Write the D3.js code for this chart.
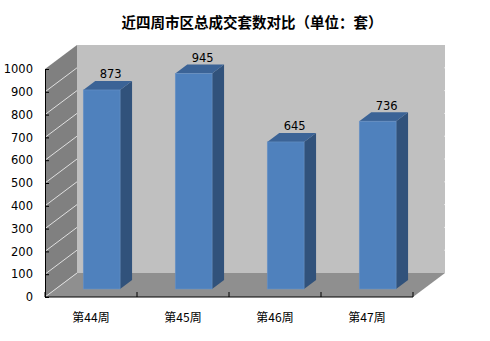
<!DOCTYPE html>
<html><head><meta charset="utf-8">
<script src="https://cdn.jsdelivr.net/npm/d3@7"></script>
<style>body{margin:0;background:#fff}svg{display:block}</style>
</head><body>
<script>
const categories = ["第44周","第45周","第46周","第47周"];
const values = [873, 945, 645, 736];
const yTicks = [0,100,200,300,400,500,600,700,800,900,1000];
const title = "近四周市区总成交套数对比（单位：套）";

const W = 490, H = 341;
const svg = d3.select("body").append("svg").attr("width", W).attr("height", H);
const x0 = 45, x1 = 413, yb = 297, yt = 69;
const DX = 32, DY = -24;          // wall depth
const bdx = DX/3, bdy = DY/3;      // bar placement depth
const bw = 12, bh = -9;            // bar depth

const x = d3.scaleBand().domain(categories).range([x0, x1]).paddingInner(0.6).paddingOuter(0.3);
const y = d3.scaleLinear().domain([0, 1000]).range([yb, yt]);

const font = "'Noto Sans CJK SC','DejaVu Sans',sans-serif";

// title
svg.append("text").attr("x", 252).attr("y", 28).attr("text-anchor", "middle")
  .attr("font-family", font).attr("font-weight", "bold").attr("font-size", 14.5)
  .attr("fill", "#000").text(title);

// back wall
svg.append("rect").attr("x", x0+DX).attr("y", y(1000)+DY).attr("width", x1-x0)
  .attr("height", y(0)-y(1000)).attr("fill", "#c0c0c0");
// floor
svg.append("polygon").attr("points", [[x0,y(0)],[x1,y(0)],[x1+DX,y(0)+DY],[x0+DX,y(0)+DY]].join(" "))
  .attr("fill", "#8f8f8f");
// left wall
svg.append("polygon").attr("points", [[x0,y(0)],[x0,y(1000)],[x0+DX,y(1000)+DY],[x0+DX,y(0)+DY]].join(" "))
  .attr("fill", "#808080");
// wall gridlines
svg.selectAll("line.g").data(yTicks.slice(0,-1)).enter().append("line")
  .attr("x1", x0).attr("x2", x0+DX).attr("y1", d=>y(d)).attr("y2", d=>y(d)+DY)
  .attr("stroke", "#e0e0e0").attr("stroke-width", 1);
// tiny marks at right edge of back wall
svg.selectAll("line.bg").data(yTicks.slice(1,-1)).enter().append("line")
  .attr("x1", x1+DX-1).attr("x2", x1+DX).attr("y1", d=>y(d)+DY).attr("y2", d=>y(d)+DY)
  .attr("stroke", "#e6e6e6").attr("stroke-width", 1);

// bars
const g = svg.append("g");
values.forEach((v, i) => {
  const c = categories[i];
  const xl = x(c) + bdx, xr = xl + x.bandwidth();
  const yT = y(v) + bdy, yB = y(0) + bdy;
  g.append("polygon").attr("points", [[xr,yB],[xr,yT],[xr+bw,yT+bh],[xr+bw,yB+bh]].join(" "))
    .attr("fill", "#31527b");
  g.append("polygon").attr("points", [[xl,yT],[xr,yT],[xr+bw,yT+bh],[xl+bw,yT+bh]].join(" "))
    .attr("fill", "#3b6396");
  g.append("rect").attr("x", xl).attr("y", yT).attr("width", x.bandwidth()).attr("height", yB-yT)
    .attr("fill", "#4f81bd").attr("stroke", "#6a93c6").attr("stroke-width", 0.6);
  g.append("text").attr("x", (xl+xr)/2 + 9).attr("y", yT - 11.5).attr("text-anchor", "middle")
    .attr("font-family", "'DejaVu Sans',sans-serif").attr("font-size", 11.5).attr("fill", "#000").text(v);
});

// axes
const ya = d3.axisLeft(y).tickValues(yTicks).tickSize(-4).tickPadding(12).tickFormat(d3.format("d"));
const yg = svg.append("g").attr("transform", `translate(${x0},0)`).call(ya);
yg.select(".domain").attr("stroke", "#000");
yg.selectAll(".tick line").attr("stroke", "#000");
yg.selectAll("text").attr("font-family", "'DejaVu Sans',sans-serif").attr("font-size", 11.5).attr("fill", "#000");

svg.append("line").attr("x1", x0).attr("x2", x1).attr("y1", yb).attr("y2", yb).attr("stroke", "#000");
const step = x.step();
svg.selectAll("line.xt").data(d3.range(5)).enter().append("line")
  .attr("x1", d=>x0+d*step).attr("x2", d=>x0+d*step).attr("y1", yb).attr("y2", yb-5).attr("stroke", "#000");
svg.selectAll("text.xl").data(categories).enter().append("text")
  .attr("x", d=>x(d)+x.bandwidth()/2).attr("y", 322).attr("text-anchor", "middle")
  .attr("font-family", font).attr("font-size", 12).attr("fill", "#000").text(d=>d);
</script>
</body></html>
